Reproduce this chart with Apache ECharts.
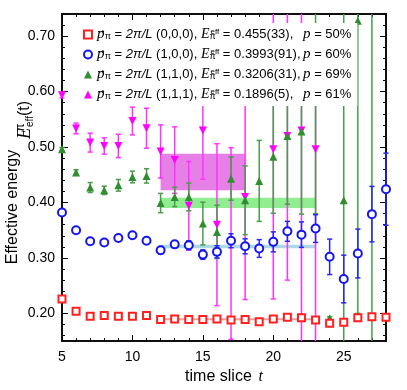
<!DOCTYPE html>
<html>
<head>
<meta charset="utf-8">
<title>Effective energy</title>
<script src="https://cdn.jsdelivr.net/npm/echarts@6/dist/echarts.min.js"></script>
<style>
  html, body { margin: 0; padding: 0; background: #fff; }
  #main { width: 407px; height: 390px; }
</style>
</head>
<body>
<div id="main"></div>
<script>
// time slices
var tSlice = [5, 6, 7, 8, 9, 10, 11, 12, 13, 14, 15, 16, 17, 18, 19, 20, 21, 22, 23, 24, 25, 26, 27, 28];

// (0,0,0) red squares
var redVal = [0.226, 0.204, 0.195, 0.196, 0.195, 0.195, 0.196, 0.189, 0.190, 0.189, 0.189, 0.190,
              0.188, 0.189, 0.185, 0.190, 0.193, 0.192, 0.188, 0.182, 0.184, 0.192, 0.194, 0.193];
var redErr = [0.003, 0.002, 0.002, 0.002, 0.002, 0.002, 0.002, 0.002, 0.002, 0.002, 0.002, 0.002,
              0.002, 0.002, 0.002, 0.002, 0.002, 0.002, 0.002, 0.003, 0.003, 0.003, 0.003, 0.003];

// (1,0,0) blue circles
var blueVal = [0.382, 0.350, 0.330, 0.328, 0.336, 0.341, 0.331, 0.314, 0.3245, 0.323, 0.306, 0.311,
               0.331, 0.321, 0.317, 0.329, 0.348, 0.342, 0.353, 0.302, 0.262, 0.308, 0.379, 0.424];
var blueErr = [0.002, 0.002, 0.003, 0.003, 0.003, 0.003, 0.004, 0.0066, 0.005, 0.008, 0.0085, 0.011,
               0.0126, 0.0135, 0.016, 0.018, 0.018, 0.023, 0.025, 0.032, 0.043, 0.044, 0.05, 0.065];

// (1,1,0) green triangles
var greenVal = [0.496, 0.454, 0.427, 0.422, 0.431, 0.446, 0.448, 0.399, 0.410, 0.410, 0.362, 0.347,
                0.443, 0.404, 0.439, 0.4825, 0.520, 0.528, 0.66, 0.191, 0.404, 0.728, 0.80, null];
var greenErr = [0.003, 0.005, 0.009, 0.0075, 0.0105, 0.0105, 0.013, 0.0174, 0.0174, 0.025, 0.0385, 0.048,
                0.039, 0.062, 0.073, 0.102, 0.123, 0.149, 0.28, 0.003, 0.36, 0.528, 0.70, null];

// (1,1,1) magenta triangles; [down, up] where the bar is not symmetric
var magentaVal = [0.5936, 0.5336, 0.508, 0.502, 0.502, 0.547, 0.534, 0.492, 0.4765, 0.394, 0.530, 0.360,
                  0.326, 0.410, null, 0.496, 0.52, 0.53, 0.496, null, null, null, null, null];
var magentaErr = [0.005, 0.0096, 0.017, 0.0147, 0.021, 0.025, 0.036, 0.048, 0.06, 0.08, 0.088, 0.146,
                  0.173, 0.185, null, 0.27, 0.26, 0.40, [0.40, 0.20], null, null, null, null, null];

// fit bands: red, blue, green, magenta
var fitFrom = [12, 12, 12, 12];
var fitTo = [23, 23, 23, 18];
var fitVal = [0.1896, 0.3206, 0.3993, 0.455];
var fitErr = [0.0005, 0.0031, 0.0091, 0.033];

// legend texts
var momenta = ['(0,0,0)', '(1,0,0)', '(1,1,0)', '(1,1,1)'];
var eFit = ['0.455(33),', '0.3993(91),', '0.3206(31),', '0.1896(5),'];
var pValue = ['50%', '60%', '69%', '61%'];

var xMajor = [5, 10, 15, 20, 25];
var yMajor = [0.20, 0.30, 0.40, 0.50, 0.60, 0.70];

var X_MIN = 5, X_MAX = 28, Y_MIN = 0.15, Y_MAX = 0.74;

var xMinor = [];
for (var i = 6; i <= 28; i++) if (i % 5 != 0) xMinor.push(i);
var yMinor = [];
for (var k = 8; k <= 37; k++) if (k % 5 != 0) yMinor.push(k / 50);

var colRed = '#ff2020', colBlue = '#1515f0', colGreen = '#2f8f2f', colMag = '#ff00ff';
var keys = ['p000', 'p100', 'p110', 'p111'];

function rows(vals, errs) {
    var out = [];
    for (var i = 0; i < tSlice.length; i++) {
        if (vals[i] == null) continue;
        var e = errs[i];
        var dn = Array.isArray(e) ? e[0] : e;
        var up = Array.isArray(e) ? e[1] : e;
        out.push([tSlice[i], vals[i], dn, up]);
    }
    return out;
}

function errBarItem(params, api) {
    var t = api.value(0), v = api.value(1);
    var lo = v - api.value(2), hi = v + api.value(3);
    var loC = Math.max(lo, Y_MIN), hiC = Math.min(hi, Y_MAX);
    if (hiC <= Y_MIN || loC >= Y_MAX) return;
    var p0 = api.coord([t, loC]), p1 = api.coord([t, hiC]);
    var st = { stroke: api.visual('color'), lineWidth: 1.5 };
    var kids = [{ type: 'line', shape: { x1: p0[0], y1: p0[1], x2: p1[0], y2: p1[1] }, style: st }];
    var w = 2.6;
    if (lo >= Y_MIN) kids.push({ type: 'line', shape: { x1: p0[0] - w, y1: p0[1], x2: p0[0] + w, y2: p0[1] }, style: st });
    if (hi <= Y_MAX) kids.push({ type: 'line', shape: { x1: p1[0] - w, y1: p1[1], x2: p1[0] + w, y2: p1[1] }, style: st });
    return { type: 'group', children: kids };
}

function bandItem(params, api) {
    var a = api.coord([api.value(0), api.value(2) + api.value(3)]);
    var b = api.coord([api.value(1), api.value(2) - api.value(3)]);
    var h = Math.max(b[1] - a[1], 2);
    return {
        type: 'rect',
        shape: { x: a[0], y: (a[1] + b[1]) / 2 - h / 2, width: b[0] - a[0], height: h },
        style: { fill: api.visual('color') }
    };
}

function errSeries(vals, errs, color) {
    return {
        type: 'custom', renderItem: errBarItem, data: rows(vals, errs),
        encode: { x: 0, y: 1 }, itemStyle: { color: color }, z: 2, silent: true
    };
}

function ptSeries(name, vals, errs, symbol, size, color, rot) {
    return {
        name: name, type: 'scatter', data: rows(vals, errs), symbol: symbol, symbolSize: size,
        symbolRotate: rot || 0, encode: { x: 0, y: 1 }, z: 3,
        itemStyle: { color: color, borderColor: color, borderWidth: symbol.indexOf('empty') == 0 ? 1.6 : 0, opacity: 1 }
    };
}

var bandColors = ['#f4a0a0', '#add8e6', '#90ee90', '#e67fe6'];
var bandData = [];
for (var b = 0; b < fitVal.length; b++) {
    bandData.push({ value: [fitFrom[b], fitTo[b], fitVal[b], fitErr[b]], itemStyle: { color: bandColors[b] } });
}

var legendText = {};
for (var j = 0; j < keys.length; j++) {
    legendText[keys[j]] = '{pw|p}{ar|\u2192}{sub|\u03c0}{n| = }{it|2\u03c0/L}{n| ' + momenta[j] + ', }' +
        '{iE|E}{subz|\u03c0}{sup|eff}{n| = }{val|' + eFit[j] + '}{ip|p}{n| = ' + pValue[j] + '}';
}

var sans = '"Liberation Sans", Arial, sans-serif';
var serif = '"Liberation Serif", "DejaVu Serif", serif';

function yAxisDef(pos, values, len, labels) {
    return {
        type: 'value', position: pos, min: Y_MIN, max: Y_MAX,
        axisLine: { show: true, lineStyle: { color: '#000', width: 1.5 } },
        axisTick: { show: true, inside: true, length: len, customValues: values, lineStyle: { color: '#000', width: 1 } },
        axisLabel: {
            show: labels, customValues: values, margin: 7, color: '#000', fontSize: 14, fontFamily: sans,
            formatter: function (v) { return v.toFixed(2); }
        },
        splitLine: { show: false }
    };
}
function xAxisDef(pos, values, len, labels) {
    return {
        type: 'value', position: pos, min: X_MIN, max: X_MAX,
        axisLine: { show: true, lineStyle: { color: '#000', width: 1.5 } },
        axisTick: { show: true, inside: true, length: len, customValues: values, lineStyle: { color: '#000', width: 1 } },
        axisLabel: { show: labels, customValues: values, margin: 9, color: '#000', fontSize: 14, fontFamily: sans },
        splitLine: { show: false }
    };
}

var xMain = xAxisDef('bottom', xMajor, 6, true);
xMain.name = '{a|time slice}{s|  }{i|t}';
xMain.nameLocation = 'middle';
xMain.nameGap = 27;
xMain.nameTextStyle = {
    rich: {
        a: { fontFamily: sans, fontSize: 16, color: '#000' },
        s: { fontSize: 12 },
        i: { fontFamily: serif, fontStyle: 'italic', fontSize: 16, color: '#000' }
    }
};

var chart = echarts.init(document.getElementById('main'));
chart.setOption({
    animation: false,
    backgroundColor: '#fff',
    grid: { left: 62, right: 21, top: 14, bottom: 48 },
    xAxis: [xMain, xAxisDef('bottom', xMinor, 3, false), xAxisDef('top', xMajor, 6, false), xAxisDef('top', xMinor, 3, false)],
    yAxis: [yAxisDef('left', yMajor, 6, true), yAxisDef('left', yMinor, 3, false), yAxisDef('right', yMajor, 6, false), yAxisDef('right', yMinor, 3, false)],
    legend: {
        orient: 'vertical', left: 78, top: 23, padding: [4, 6, 4, 5], itemGap: 5,
        itemWidth: 8, itemHeight: 8, backgroundColor: '#fff', selectedMode: false,
        data: keys,
        formatter: function (name) { return legendText[name]; },
        textStyle: {
            color: '#000', overflow: 'none',
            rich: {
                n: { fontFamily: sans, fontSize: 13, lineHeight: 14, verticalAlign: 'middle' },
                pw: { fontFamily: serif, fontStyle: 'italic', fontSize: 15, lineHeight: 14, width: 1, verticalAlign: 'middle' },
                ar: { fontFamily: '"DejaVu Sans", sans-serif', fontSize: 8, lineHeight: 14, verticalAlign: 'top' },
                ip: { fontFamily: serif, fontStyle: 'italic', fontSize: 15, lineHeight: 14, verticalAlign: 'middle' },
                iE: { fontFamily: serif, fontStyle: 'italic', fontSize: 14, lineHeight: 14, verticalAlign: 'middle' },
                it: { fontFamily: sans, fontStyle: 'italic', fontSize: 13, lineHeight: 14, verticalAlign: 'middle' },
                sub: { fontFamily: sans, fontSize: 9, lineHeight: 14, verticalAlign: 'bottom' },
                subz: { fontFamily: sans, fontSize: 9, width: 1, lineHeight: 14, verticalAlign: 'bottom' },
                sup: { fontFamily: sans, fontSize: 8, lineHeight: 14, verticalAlign: 'top' },
                val: { fontFamily: sans, fontSize: 13, lineHeight: 14, width: 69, verticalAlign: 'middle' }
            }
        }
    },
    graphic: [
        {
            type: 'text', x: 13, y: 207, rotation: Math.PI / 2,
            style: { text: 'Effective energy', font: '16px ' + sans, fill: '#000', align: 'center', verticalAlign: 'middle' }
        },
        {
            type: 'text', x: 25, y: 120, rotation: Math.PI / 2,
            style: {
                text: '{e|E}{p|\u03c0}{f|eff}{t|(t)}', align: 'center', verticalAlign: 'middle', fill: '#000',
                rich: {
                    e: { fontFamily: serif, fontStyle: 'italic', fontSize: 18, lineHeight: 20, verticalAlign: 'middle' },
                    p: { fontFamily: sans, fontSize: 12, width: 1, lineHeight: 20, verticalAlign: 'top' },
                    f: { fontFamily: sans, fontSize: 10, lineHeight: 20, verticalAlign: 'bottom' },
                    t: { fontFamily: sans, fontSize: 16, lineHeight: 20, verticalAlign: 'middle' }
                }
            }
        }
    ],
    series: [
        { type: 'custom', renderItem: bandItem, data: bandData, encode: { x: [0, 1], y: 2 }, z: 1, silent: true },
        errSeries(magentaVal, magentaErr, '#ff33ff'),
        errSeries(greenVal, greenErr, '#4a9d4a'),
        errSeries(blueVal, blueErr, '#2828f5'),
        errSeries(redVal, redErr, colRed),
        ptSeries('p111', magentaVal, magentaErr, 'triangle', 8, colMag, 180),
        ptSeries('p110', greenVal, greenErr, 'triangle', 8, colGreen),
        ptSeries('p100', blueVal, blueErr, 'emptyCircle', 8, colBlue),
        ptSeries('p000', redVal, redErr, 'emptyRect', 7, colRed)
    ]
});
</script>
</body>
</html>
